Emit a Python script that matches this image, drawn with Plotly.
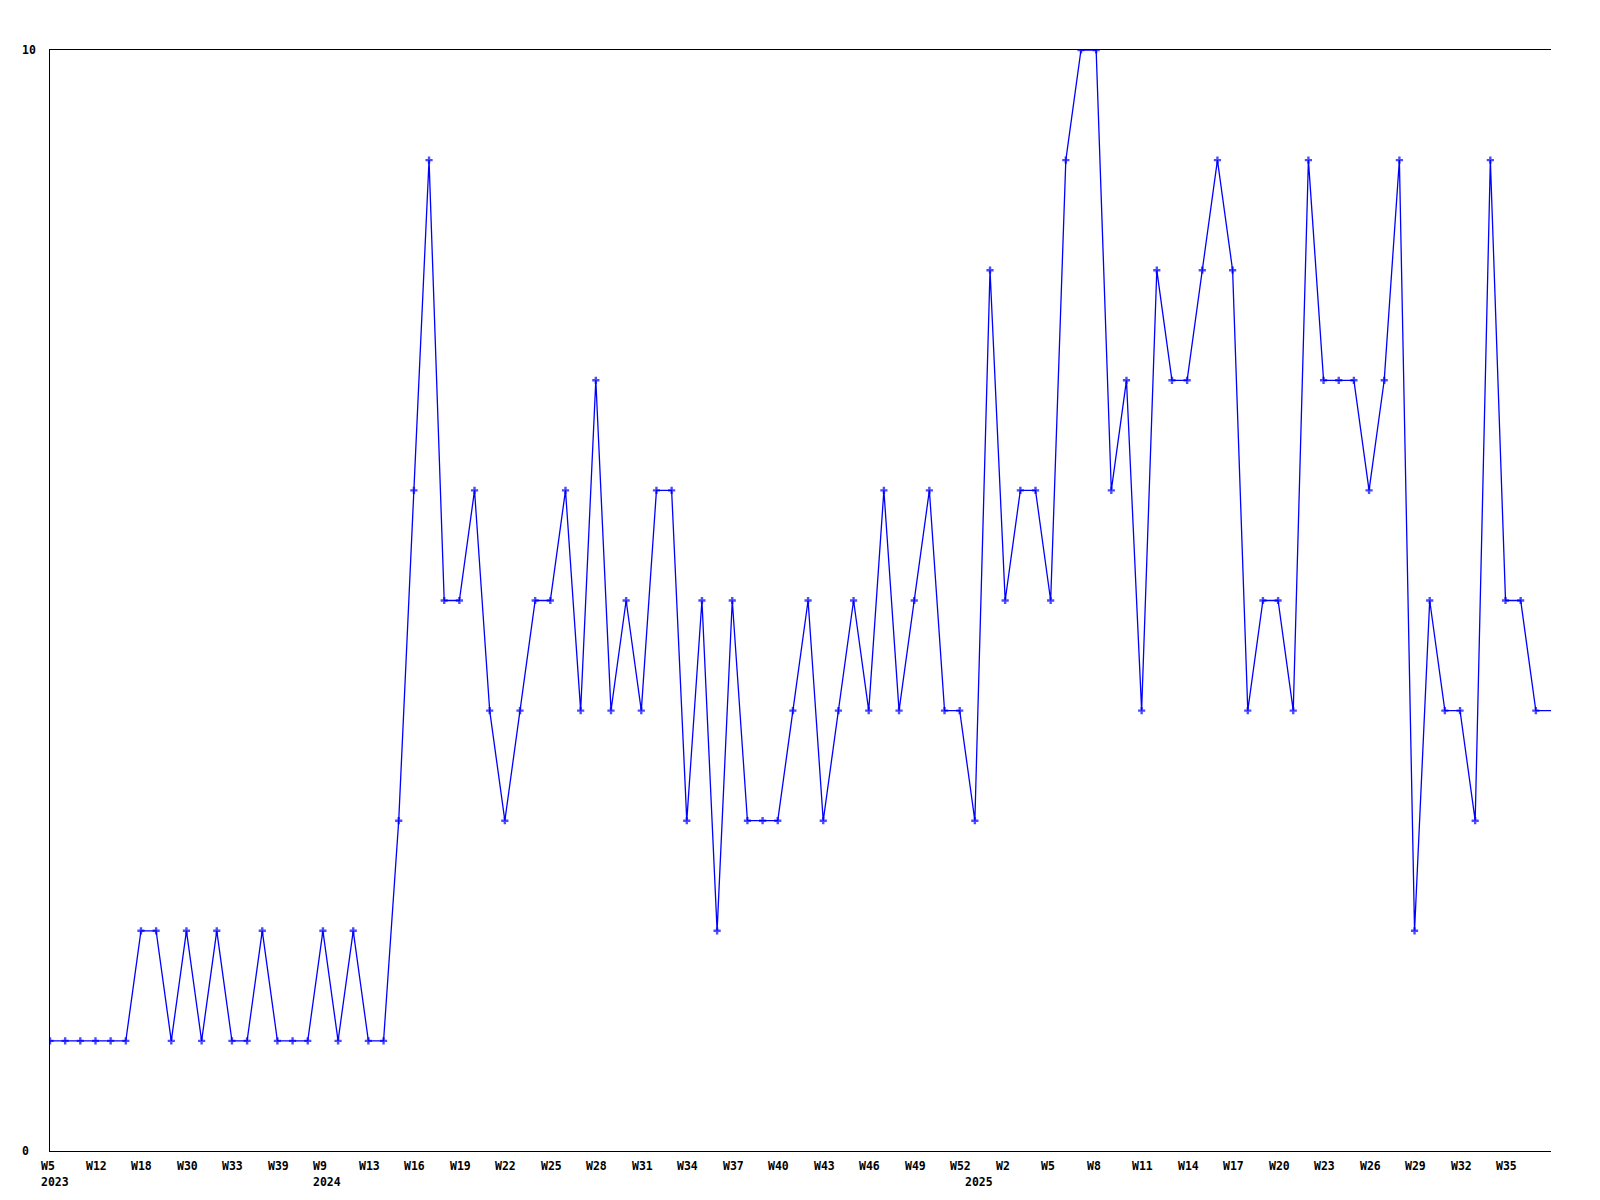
import plotly.graph_objects as go

# ---- data ----
weeks_2023 = ["W5", "W7", "W10", "W12", "W14", "W16", "W18", "W20", "W25",
              "W30", "W31", "W32", "W33", "W35", "W37", "W39", "W44", "W49"]
weeks_2024 = ["W9", "W10", "W11"] + [f"W{w}" for w in range(13, 53)]
weeks_2025 = ["W1", "W1"] + [f"W{w}" for w in range(2, 39)]
weeks = weeks_2023 + weeks_2024 + weeks_2025
years = [2023] * len(weeks_2023) + [2024] * len(weeks_2024) + [2025] * len(weeks_2025)

values = [1, 1, 1, 1, 1, 1, 2, 2, 1, 2,
          1, 2, 1, 1, 2, 1, 1, 1, 2, 1,
          2, 1, 1, 3, 6, 9, 5, 5, 6, 4,
          3, 4, 5, 5, 6, 4, 7, 4, 5, 4,
          6, 6, 3, 5, 2, 5, 3, 3, 3, 4,
          5, 3, 4, 5, 4, 6, 4, 5, 6, 4,
          4, 3, 8, 5, 6, 6, 5, 9, 10, 10,
          6, 7, 4, 8, 7, 7, 8, 9, 8, 4,
          5, 5, 4, 9, 7, 7, 7, 6, 7, 9,
          2, 5, 4, 4, 3, 9, 5, 5, 4, 4]

tick_step = 3
y_labels = [0, 10]

# ---- figure ----
n = len(values)
x = list(range(n))
font = dict(family="DejaVu Sans Mono", size=11.5, color="black", weight="bold")
marker_sizes = [6] * (n - 1) + [0]

fig = go.Figure()
fig.add_trace(go.Scatter(
    x=x, y=values, mode="lines+markers",
    line=dict(color="#0000ff", width=1.3),
    marker=dict(symbol="cross", size=marker_sizes, color="#0000ff", line=dict(width=0)),
    hoverinfo="skip", showlegend=False,
))

annotations = []
for i in range(0, n - 1, tick_step):
    annotations.append(dict(x=i, y=0, xref="x", yref="y", text=weeks[i],
                            showarrow=False, xanchor="left", yanchor="top",
                            xshift=-11.5, yshift=-6, font=font))
prev = None
for i, yr in enumerate(years):
    if yr != prev:
        annotations.append(dict(x=i, y=0, xref="x", yref="y", text=str(yr),
                                showarrow=False, xanchor="left", yanchor="top",
                                xshift=-11.5, yshift=-21.5, font=font))
        prev = yr
for v in y_labels:
    annotations.append(dict(x=0, y=v, xref="paper", yref="y", text=str(v),
                            showarrow=False, xanchor="left", yanchor="middle",
                            xshift=-30.5, font=font))

fig.update_layout(
    width=1600, height=1200,
    margin=dict(l=42, r=57, t=42, b=57),
    paper_bgcolor="white", plot_bgcolor="white",
    annotations=annotations,
    xaxis=dict(range=[0, n - 1], showgrid=False, zeroline=False,
               showticklabels=False, ticks="", showline=True, linecolor="black",
               linewidth=1, mirror=True),
    yaxis=dict(range=[0, 10], showgrid=False, zeroline=False,
               showticklabels=False, ticks="", showline=True, linecolor="black",
               linewidth=1, mirror=False),
)

fig.write_html("out.html")
